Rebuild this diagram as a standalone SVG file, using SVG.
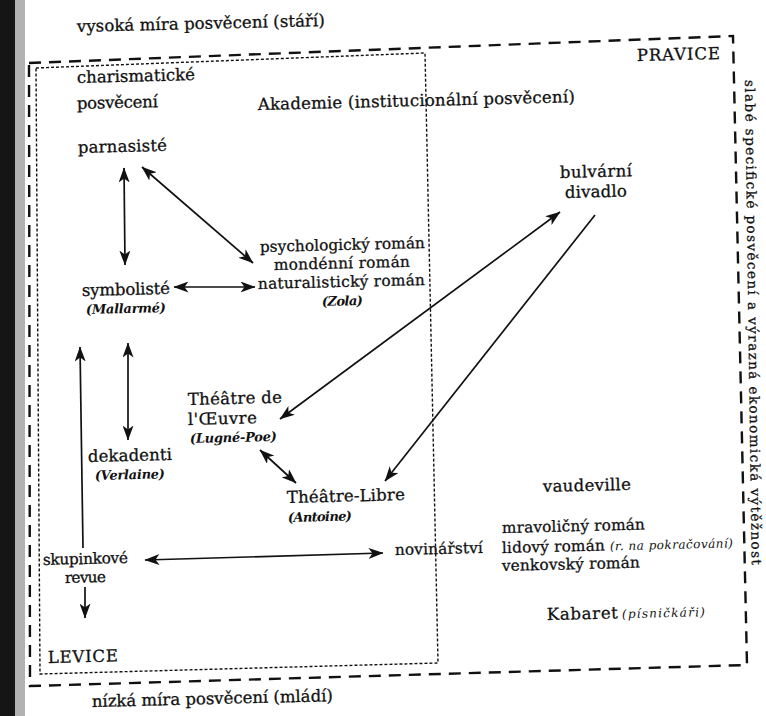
<svg xmlns="http://www.w3.org/2000/svg" width="766" height="716" viewBox="0 0 766 716">
<style>
text{font-family:"DejaVu Serif","Liberation Serif",serif;fill:#111;stroke:#111;stroke-width:0.3}
.t{font-size:16.5px}
.s{font-size:15.3px}
.v{font-size:13.5px}
.i{font-size:13px;font-style:italic;font-weight:bold;stroke-width:0}
.xs{font-size:12px;font-style:italic;stroke-width:0}
.outer{fill:none;stroke:#111;stroke-width:2.4;stroke-dasharray:12 8}
.inner{fill:none;stroke:#111;stroke-width:1.4;stroke-dasharray:3 2}
.conn line{stroke:#111;stroke-width:1.7}
.d{marker-start:url(#ah);marker-end:url(#ah)}
.e{marker-end:url(#ah)}
</style>
<defs>
<marker id="ah" viewBox="0 0 15 11" markerWidth="15" markerHeight="11" refX="14.5" refY="5.5" orient="auto-start-reverse" markerUnits="userSpaceOnUse">
<path d="M0,0 L15,5.5 L0,11 L4,5.5 z" fill="#111"/>
</marker>
</defs>
<rect width="766" height="716" fill="#fff"/>
<g id="scan-edge">
<rect x="0" y="0" width="15" height="716" fill="#151515"/>
<rect x="15" y="0" width="10" height="716" fill="#555" opacity="0.45"/>
</g>
<g id="frames">
<polygon class="outer" points="29,63 733,36 747,665 30,686"/>
<polygon class="inner" points="36,68 425,53 438,663 40,674"/>
</g>
<g id="axis-labels">
<text class="t" x="77" y="32" textLength="248" transform="rotate(-1.4 77 32)">vysoká míra posvěcení (stáří)</text>
<text class="t" x="92" y="707" textLength="241" transform="rotate(-1.4 92 707)">nízká míra posvěcení (mládí)</text>
<text class="t" x="637" y="61" textLength="83" transform="rotate(-1.4 637 61)">PRAVICE</text>
<text class="t" x="48" y="663" textLength="70" transform="rotate(-1.4 48 663)">LEVICE</text>
<text class="v" x="745" y="80" textLength="485" transform="rotate(89.2 745 80)">slabé specifické posvěcení a výrazná ekonomická výtěžnost</text>
</g>
<g id="charismaticke">
<text class="t" x="77" y="83" textLength="118" transform="rotate(-1.4 77 83)">charismatické</text>
<text class="t" x="77" y="109" textLength="81" transform="rotate(-1.4 77 109)">posvěcení</text>
</g>
<g id="akademie">
<text class="t" x="258" y="110" textLength="317" transform="rotate(-1.4 258 110)">Akademie (institucionální posvěcení)</text>
</g>
<g id="parnasiste">
<text class="t" x="78" y="153" textLength="89" transform="rotate(-1.4 78 153)">parnasisté</text>
</g>
<g id="symboliste">
<text class="t" x="82" y="296" textLength="88" transform="rotate(-1.4 82 296)">symbolisté</text>
<text class="i" x="86" y="314" textLength="80" transform="rotate(-1.4 86 314)">(Mallarmé)</text>
</g>
<g id="romany">
<text class="s" x="260" y="252" textLength="165" transform="rotate(-1.4 260 252)">psychologický román</text>
<text class="s" x="274" y="270" textLength="136" transform="rotate(-1.4 274 270)">mondénní román</text>
<text class="s" x="258" y="289" textLength="167" transform="rotate(-1.4 258 289)">naturalistický román</text>
<text class="i" x="322" y="306" textLength="41" transform="rotate(-1.4 322 306)">(Zola)</text>
</g>
<g id="bulvarni">
<text class="t" x="560" y="178" textLength="72" transform="rotate(-1.4 560 178)">bulvární</text>
<text class="t" x="565" y="198" textLength="62" transform="rotate(-1.4 565 198)">divadlo</text>
</g>
<g id="theatre-oeuvre">
<text class="t" x="188" y="405" textLength="94" transform="rotate(-1.4 188 405)">Théâtre de</text>
<text class="t" x="188" y="425" textLength="69" transform="rotate(-1.4 188 425)">l'Œuvre</text>
<text class="i" x="190" y="443" textLength="87" transform="rotate(-1.4 190 443)">(Lugné-Poe)</text>
</g>
<g id="dekadenti">
<text class="t" x="88" y="462" textLength="84" transform="rotate(-1.4 88 462)">dekadenti</text>
<text class="i" x="95" y="480" textLength="70" transform="rotate(-1.4 95 480)">(Verlaine)</text>
</g>
<g id="theatre-libre">
<text class="t" x="287" y="503" textLength="118" transform="rotate(-1.4 287 503)">Théâtre-Libre</text>
<text class="i" x="288" y="522" textLength="64" transform="rotate(-1.4 288 522)">(Antoine)</text>
</g>
<g id="skupinkove">
<text class="s" x="43" y="565" textLength="85" transform="rotate(-1.4 43 565)">skupinkové</text>
<text class="s" x="65" y="583" textLength="41" transform="rotate(-1.4 65 583)">revue</text>
</g>
<g id="novinarstvi">
<text class="s" x="395" y="555" textLength="88" transform="rotate(-1.4 395 555)">novinářství</text>
</g>
<g id="vaudeville">
<text class="t" x="543" y="492" textLength="88" transform="rotate(-1.4 543 492)">vaudeville</text>
</g>
<g id="lidove-romany">
<text class="s" x="502" y="533" textLength="143" transform="rotate(-1.4 502 533)">mravoličný román</text>
<text class="s" x="502" y="553" transform="rotate(-1.4 502 553)"><tspan textLength="103">lidový román</tspan><tspan class="xs" x="610" textLength="123">(r. na pokračování)</tspan></text>
<text class="s" x="502" y="571" textLength="138" transform="rotate(-1.4 502 571)">venkovský román</text>
</g>
<g id="kabaret">
<text class="t" x="547" y="620" transform="rotate(-1.4 547 620)"><tspan textLength="71">Kabaret</tspan><tspan class="xs" x="622" textLength="83">(písničkáři)</tspan></text>
</g>
<g id="connectors" class="conn">
<line class="d" x1="124" y1="168" x2="125" y2="265"/>
<line class="d" x1="142" y1="167" x2="253" y2="263"/>
<line class="d" x1="174" y1="287" x2="255" y2="287"/>
<line class="d" x1="128" y1="343" x2="128" y2="440"/>
<line class="e" x1="83" y1="548" x2="80" y2="347"/>
<line class="e" x1="85" y1="587" x2="85" y2="618"/>
<line class="d" x1="145" y1="560" x2="383" y2="553"/>
<line class="d" x1="560" y1="212" x2="280" y2="419"/>
<line class="e" x1="595" y1="215" x2="385" y2="481"/>
<line class="d" x1="260" y1="450" x2="296" y2="483"/>
</g>
</svg>
